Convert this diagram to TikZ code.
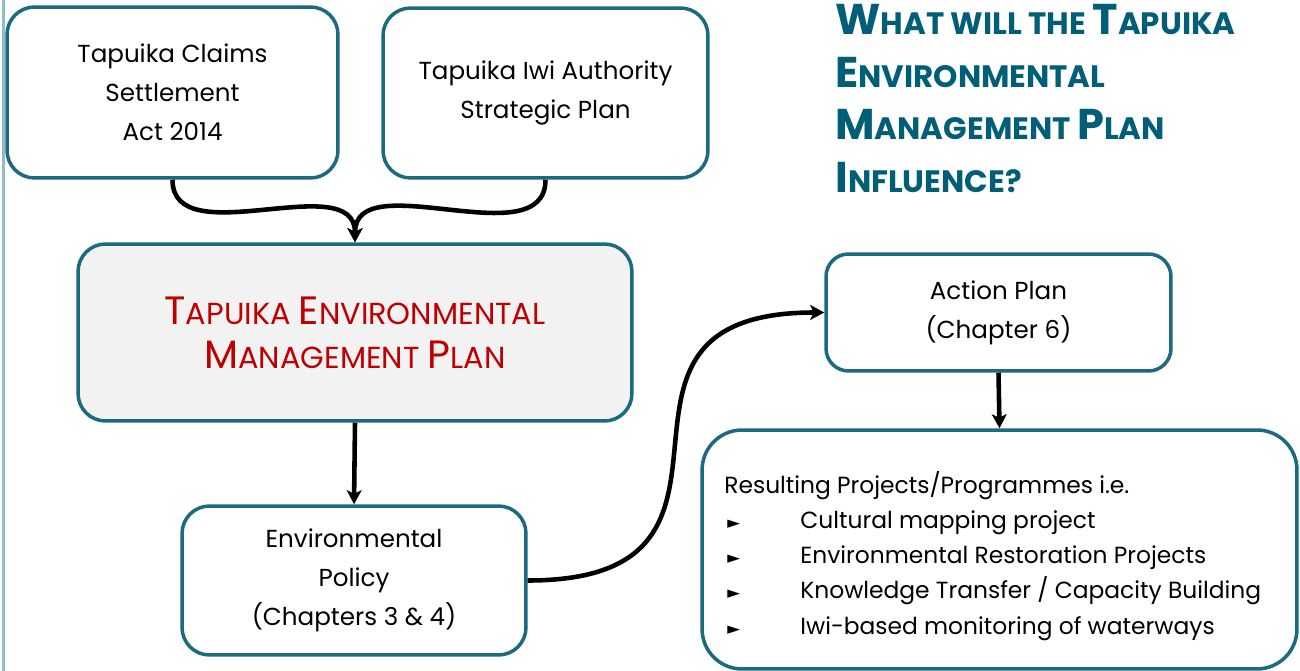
\documentclass[tikz,border=0pt]{standalone}
\usepackage{fontspec}
\setmainfont{Poppins}
\newfontfamily\symfont{DejaVu Sans}
\usetikzlibrary{arrows.meta}

\definecolor{boxline}{HTML}{1A6A80}
\definecolor{titleblue}{HTML}{005E77}
\definecolor{planred}{HTML}{C00000}
\definecolor{planfill}{HTML}{F2F2F2}
\definecolor{edgeline}{HTML}{93BAC7}

% fake small caps: first letter full size, rest smaller
\newcommand\titlecaps[2]{{\fontsize{24.5}{30}\selectfont #1}{\fontsize{17.6}{30}\selectfont #2}}
\newcommand\redcaps[2]{{\fontsize{22.5}{25}\selectfont #1}{\fontsize{17.3}{25}\selectfont #2}}
\newcommand\listitem[1]{\makebox[1.52cm][l]{\hspace{0.06cm}{\symfont\fontsize{9.5}{20}\selectfont ►}}#1}

\begin{document}
\begin{tikzpicture}[
    x=0.02cm, y=-0.02cm, % one unit per pixel
    plainbox/.style={draw=boxline, line width=2pt, rounded corners=0.55cm, fill=white,
        inner sep=0pt, align=center, font=\fontsize{14}{22.2}\selectfont},
    link/.style={-{Stealth[length=8pt, width=8.5pt, inset=2pt]}, line width=2.6pt},
    >=Stealth
]
\useasboundingbox (0,0) rectangle (1300,671);
\fill[edgeline] (1.5,0) rectangle (4.5,671);

% Nodes
\node[plainbox, minimum width=6.62cm, minimum height=3.42cm] (claims) at (172.5,92.5) {Tapuika Claims\\Settlement\\Act 2014};
\node[plainbox, minimum width=6.5cm, minimum height=3.4cm] (iwi) at (545.5,93) {Tapuika Iwi Authority\\Strategic Plan};
\node[plainbox, fill=planfill, text=planred, minimum width=11.08cm, minimum height=3.54cm,
    font=\fontsize{17.3}{25}\selectfont] (temp) at (355,332.5)
    {\redcaps{T}{APUIKA }\redcaps{E}{NVIRONMENTAL}\\\redcaps{M}{ANAGEMENT }\redcaps{P}{LAN}};
\node[plainbox, minimum width=6.88cm, minimum height=2.98cm] (policy) at (354,580.5) {Environmental\\Policy\\(Chapters 3 \& 4)};
\node[plainbox, minimum width=6.9cm, minimum height=2.34cm, rounded corners=0.45cm] (action) at (998.5,312.5) {Action Plan\\(Chapter 6)};
\node[plainbox, minimum width=11.9cm, minimum height=4.78cm, rounded corners=0.8cm] (projects) at (999.5,549.5) {};
\node[anchor=west, align=left, inner sep=0pt, font=\fontsize{13.3}{20}\selectfont] (projlist) at (724,556)
    {Resulting Projects/Programmes i.e.\\
     \listitem{Cultural mapping project}\\
     \listitem{Environmental Restoration Projects}\\
     \listitem{Knowledge Transfer / Capacity Building}\\
     \listitem{Iwi-based monitoring of waterways}};
\node[anchor=north west, align=left, inner sep=0pt, text=titleblue, font=\bfseries\fontsize{24.5}{30}\selectfont] (title) at (835,4)
    {\titlecaps{W}{HAT WILL THE }\titlecaps{T}{APUIKA}\\
     \titlecaps{E}{NVIRONMENTAL}\\
     \titlecaps{M}{ANAGEMENT }\titlecaps{P}{LAN}\\
     \titlecaps{I}{NFLUENCE?}};

% Edges
\draw[link] (claims.south) to[out=-90, in=90] (temp.north);
\draw[link] (iwi.south) to[out=-90, in=90] (temp.north);
\draw[link] (temp.south) -- (policy.north);
\draw[link] (policy.east) to[out=0, in=180, looseness=1.7] (action.west);
\draw[link] (action.south) -- (projects.north);

\end{tikzpicture}
\end{document}
